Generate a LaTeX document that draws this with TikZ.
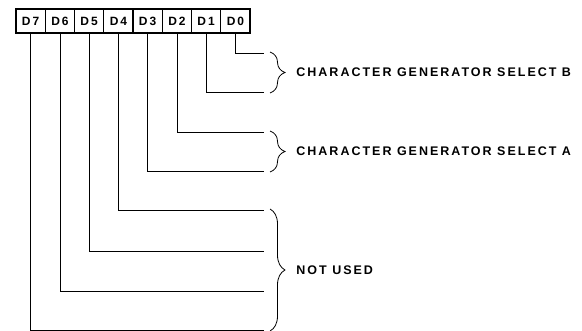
\documentclass[tikz,border=0pt]{standalone}
\usepackage{fontspec}
\newfontfamily\lblfont[LetterSpace=16]{Liberation Sans}
\usetikzlibrary{shapes}
\usetikzlibrary{decorations.pathreplacing}

\begin{document}
\begin{tikzpicture}[x=1pt,y=-1pt,line width=0.8pt,
  bit/.style={draw,rectangle,line width=1.2pt,minimum width=29.25pt,minimum height=24pt,inner sep=0pt,font=\lblfont\bfseries\fontsize{12}{14}\selectfont},
  lbl/.style={anchor=west,inner sep=0pt,font=\lblfont\bfseries\fontsize{12.5}{15}\selectfont},
  brc/.style={decorate,decoration={brace,amplitude=15pt}}]
\useasboundingbox (0,0) rectangle (582,331);
% register bits
\node[bit] (D7)at(30.6,21) {D7};
\node[bit] (D6)at(59.9,21) {D6};
\node[bit] (D5)at(89.1,21) {D5};
\node[bit] (D4)at(118.4,21) {D4};
\node[bit] (D3)at(147.6,21) {D3};
\node[bit] (D2)at(176.9,21) {D2};
\node[bit] (D1)at(206.1,21) {D1};
\node[bit] (D0)at(235.4,21) {D0};
% line ends
\coordinate (e0)at(264,53);
\coordinate (e1)at(264,92);
\coordinate (e2)at(264,132);
\coordinate (e3)at(264,171);
\coordinate (e4)at(264,210);
\coordinate (e5)at(264,251);
\coordinate (e6)at(264,291);
\coordinate (e7)at(264,330);
\draw (D0.south) |- (e0);
\draw (D1.south) |- (e1);
\draw (D2.south) |- (e2);
\draw (D3.south) |- (e3);
\draw (D4.south) |- (e4);
\draw (D5.south) |- (e5);
\draw (D6.south) |- (e6);
\draw (D7.south) |- (e7);
% braces
\coordinate (bB1)at(270,52);
\coordinate (bB2)at(270,93);
\coordinate (bA1)at(270,131);
\coordinate (bA2)at(270,172);
\coordinate (bN1)at(270,209);
\coordinate (bN2)at(270,331);
\draw[brc] (bB1) -- (bB2);
\draw[brc] (bA1) -- (bA2);
\draw[brc] (bN1) -- (bN2);
\node[lbl] (selB)at(296,72.5) {CHARACTER GENERATOR SELECT B};
\node[lbl] (selA)at(296,151.5) {CHARACTER GENERATOR SELECT A};
\node[lbl] (unused)at(296,270) {NOT USED};
\end{tikzpicture}
\end{document}
